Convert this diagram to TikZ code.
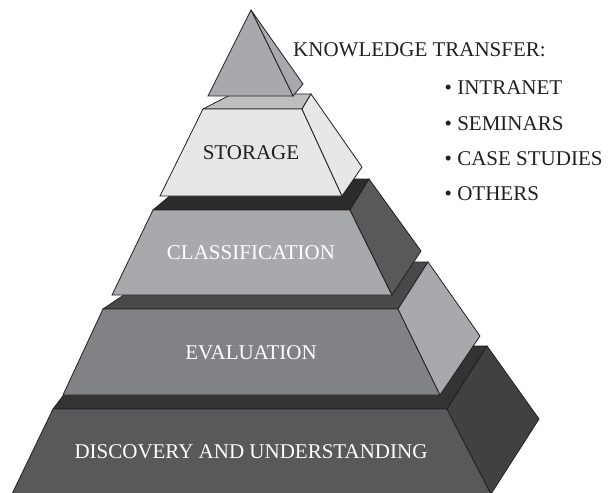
\documentclass[tikz,border=0pt]{standalone}
\usepackage{fontspec}
\setmainfont{Liberation Serif}
\begin{document}
\begin{tikzpicture}[x=1pt,y=-1pt,
  face/.style={draw=ink,line width=0.8pt,line join=miter},
  lbl/.style={font=\fontsize{21}{25}\selectfont,inner sep=0pt,anchor=base},
  lbldark/.style={lbl,text=ink},
  lbllight/.style={lbl,text=white},
  txt/.style={font=\fontsize{21}{25}\selectfont,inner sep=0pt,anchor=base west,text=ink}]
\definecolor{ink}{HTML}{231F20}
\definecolor{gA}{HTML}{E6E7E8}
\definecolor{gB}{HTML}{BCBEC0}
\definecolor{gC}{HTML}{A7A9AC}
\definecolor{gD}{HTML}{808285}
\definecolor{gE}{HTML}{58595B}
\definecolor{gF}{HTML}{414042}
\definecolor{gG}{HTML}{48494B}
\definecolor{gH}{HTML}{333334}
\definecolor{gI}{HTML}{2C2B2D}
\useasboundingbox (0,0) rectangle (612,492);
% Discovery tier
\filldraw[face,fill=gH] (101,346) -- (487,346) -- (447,409) -- (53,409) -- cycle;
\filldraw[face,fill=gE] (53,409) -- (447,409) -- (491,494) -- (12,494) -- cycle;
\filldraw[face,fill=gF] (447,409) -- (487,346) -- (539,419) -- (491,494) -- cycle;
% Evaluation tier
\filldraw[face,fill=gG] (173,262) -- (428,262) -- (398,309) -- (103,309) -- cycle;
\filldraw[face,fill=gD] (103,309) -- (398,309) -- (440,395) -- (63,395) -- cycle;
\filldraw[face,fill=gC] (398,309) -- (428,262) -- (480,336) -- (440,395) -- cycle;
% Classification tier
\filldraw[face,fill=gI] (190,179) -- (369,179) -- (350,210) -- (153,210) -- cycle;
\filldraw[face,fill=gC] (153,210) -- (350,210) -- (392,295) -- (112,295) -- cycle;
\filldraw[face,fill=gE] (350,210) -- (369,179) -- (421,251) -- (392,295) -- cycle;
% Storage tier
\filldraw[face,fill=gB] (232,94) -- (311,94) -- (302,109) -- (203,109) -- cycle;
\filldraw[face,fill=gA] (203,109) -- (302,109) -- (342,196) -- (160,196) -- cycle;
\filldraw[face,fill=gA] (302,109) -- (311,94) -- (362,167) -- (342,196) -- cycle;
% Apex
\filldraw[face,fill=gC] (251,10) -- (303,84) -- (293,96) -- cycle;
\filldraw[face,fill=gC] (251,10) -- (293,96) -- (208,96) -- cycle;
% Labels
\node[lbldark]  (storage) at (251,159) {STORAGE};
\node[lbllight] (classif) at (251,259) {CLASSIFICATION};
\node[lbllight] (evalu)   at (251,359) {EVALUATION};
\node[lbllight] (discov)  at (251,458) {DISCOVERY AND UNDERSTANDING};
\node[txt] (kt)   at (293,56.5) {KNOWLEDGE TRANSFER:};
\node[txt] (b1)   at (444.5,95) {\textbullet\ INTRANET};
\node[txt] (b2)   at (444.5,130) {\textbullet\ SEMINARS};
\node[txt] (b3)   at (444.5,165) {\textbullet\ CASE STUDIES};
\node[txt] (b4)   at (444.5,200) {\textbullet\ OTHERS};
\end{tikzpicture}
\end{document}
